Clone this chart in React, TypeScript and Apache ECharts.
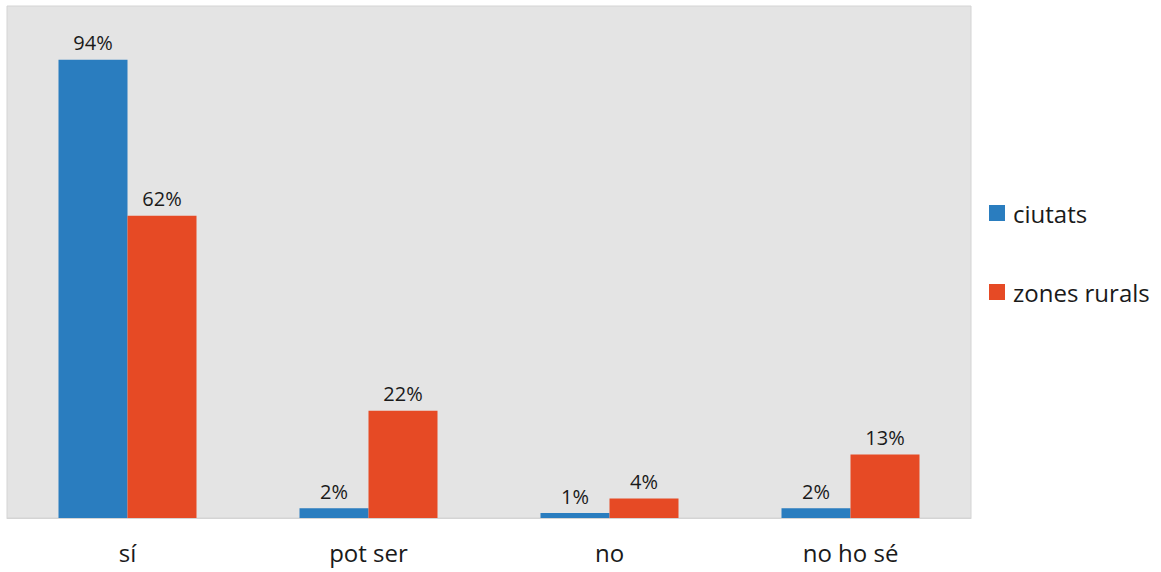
import React, { useEffect, useRef } from "react";
import * as echarts from "echarts";

const categories = ["sí", "pot ser", "no", "no ho sé"];
const ciutats = [94, 2, 1, 2];
const zonesRurals = [62, 22, 4, 13];
const seriesNames = ["ciutats", "zones rurals"];

const FONT = "'Open Sans', 'Noto Sans', sans-serif";

export default function App() {
  const ref = useRef<HTMLDivElement>(null);

  useEffect(() => {
    if (!ref.current) return;
    const chart = echarts.init(ref.current, null, { renderer: "svg" });
    const label = {
      show: true,
      position: "top" as const,
      distance: 7,
      formatter: "{c}%",
      fontSize: 20,
      fontFamily: FONT,
      color: "#1a1a1a",
    };
    chart.setOption({
      animation: false,
      backgroundColor: "#ffffff",
      textStyle: { fontFamily: FONT },
      grid: {
        left: 7,
        right: 190,
        top: 6,
        bottom: 54,
        show: true,
        backgroundColor: "#e4e4e4",
        borderColor: "#d4d4d4",
        borderWidth: 1,
      },
      legend: {
        orient: "vertical",
        left: 984,
        top: 195,
        icon: "rect",
        itemWidth: 16,
        itemHeight: 16,
        itemGap: 53,
        textStyle: {
          fontSize: 24,
          fontFamily: FONT,
          color: "#1a1a1a",
          lineHeight: 26,
          padding: [0, 0, 0, 3],
        },
        data: seriesNames,
      },
      xAxis: {
        type: "category",
        data: categories,
        axisLine: { show: true, lineStyle: { color: "#d4d4d4" } },
        axisTick: { show: false },
        axisLabel: { fontSize: 24, fontFamily: FONT, color: "#1a1a1a", margin: 22 },
      },
      yAxis: {
        type: "value",
        min: 0,
        max: 105,
        show: false,
        splitLine: { show: false },
      },
      series: [
        {
          name: seriesNames[0],
          type: "bar",
          data: ciutats,
          barWidth: 69,
          barGap: "0%",
          itemStyle: { color: "#2a7dbf" },
          label,
        },
        {
          name: seriesNames[1],
          type: "bar",
          data: zonesRurals,
          barWidth: 69,
          barGap: "0%",
          itemStyle: { color: "#e64a25" },
          label,
        },
      ],
    });
    return () => chart.dispose();
  }, []);

  return (
    <div
      ref={ref}
      style={{ position: "fixed", left: 0, top: 0, width: 1161, height: 572 }}
    />
  );
}
